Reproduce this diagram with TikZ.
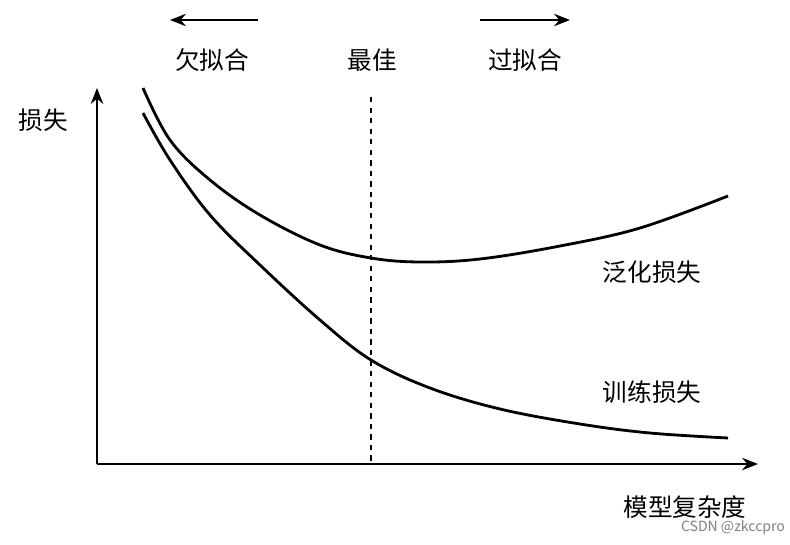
\documentclass[tikz,border=0pt]{standalone}
\usepackage{fontspec}
\setmainfont{Noto Sans CJK SC}
\usetikzlibrary{arrows.meta}
\tikzset{
  label/.style={font=\fontsize{14}{16}\selectfont},
  curve/.style={line width=1.6pt},
  axis/.style={line width=1.6pt,-{Stealth[length=9pt,width=7pt]}},
}
\begin{document}
\begin{tikzpicture}[x=0.02cm,y=-0.02cm]
\useasboundingbox (0,0) rectangle (790,544);
\coordinate (o) at (97,464);
\coordinate (ytop) at (97,88);
\coordinate (xend) at (758,464);
\draw[axis] (o) -- (ytop);
\draw[axis] (o) -- (xend);

\coordinate (dtop) at (371,97);
\coordinate (dbot) at (371,464);
\draw[line width=1.4pt,dash pattern=on 3pt off 3pt] (dtop) -- (dbot);

% generalization loss
\draw[curve] plot[smooth,tension=0.6] coordinates {(143,88) (170,140) (210,180) (260,215) (320,245) (371,258) (420,262) (480,259) (560,246) (640,228) (728,196)};
% training loss
\draw[curve] plot[smooth,tension=0.6] coordinates {(143,113) (170,160) (210,215) (260,265) (320,320) (371,360) (430,388) (500,409) (580,424) (650,433) (728,438)};

\coordinate (la) at (258,20); \coordinate (lb) at (170,20);
\coordinate (ra) at (480,20); \coordinate (rb) at (570,20);
\draw[axis] (la) -- (lb);
\draw[axis] (ra) -- (rb);

\node[label] (yl) at (43,120) {损失};
\node[label] (under) at (212,60) {欠拟合};
\node[label] (best) at (372,60) {最佳};
\node[label] (over) at (525,60) {过拟合};
\node[label] (gen) at (652,272) {泛化损失};
\node[label] (train) at (652,392) {训练损失};
\node[label] (xl) at (685,507) {模型复杂度};
\node[font=\fontsize{8}{9}\selectfont,text=gray] (wm) at (733,528) {CSDN @zkccpro};
\end{tikzpicture}
\end{document}
